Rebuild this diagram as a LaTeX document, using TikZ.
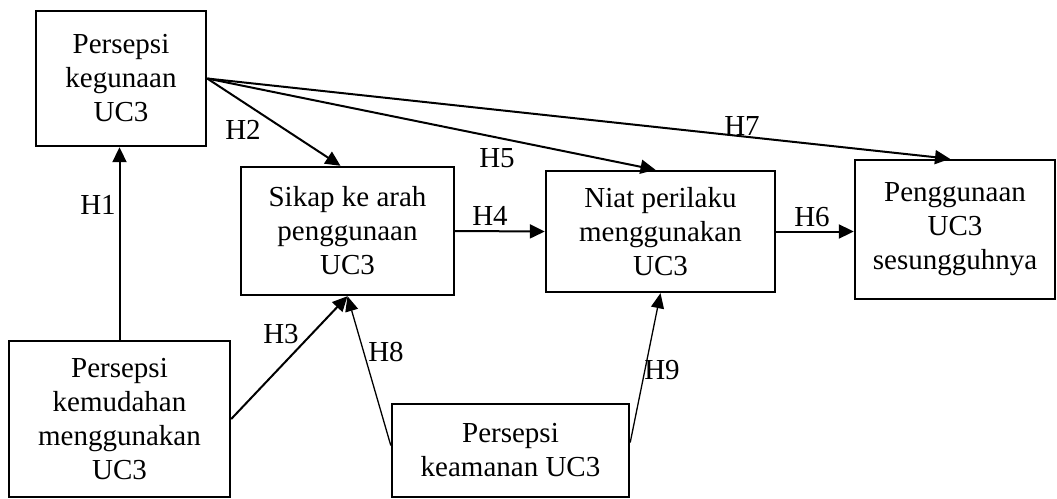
\documentclass[tikz,border=0pt]{standalone}
\usepackage{fontspec}
\setmainfont{Liberation Serif}
\usetikzlibrary{arrows.meta,calc}
\begin{document}
\begin{tikzpicture}[x=1pt,y=-1pt,
  box/.style={draw,line width=2.4pt,align=center,inner sep=0pt,
    font=\fontsize{29}{34}\selectfont},
  hlab/.style={inner sep=0pt,text height=19pt,text depth=0pt,
    font=\fontsize{29}{34}\selectfont},
  arr/.style={line width=2pt,-{Triangle[length=15pt,width=14pt]}},
  thinarr/.style={line width=1.3pt,-{Triangle[length=15pt,width=13pt]}}]
\useasboundingbox (0,0) rectangle (1057,498);
\node[box,minimum width=170pt,minimum height=135pt] (A) at (121,78.5) {Persepsi\\kegunaan\\UC3};
\node[box,minimum width=213pt,minimum height=128pt] (B) at (347.5,231) {Sikap ke arah\\penggunaan\\UC3};
\node[box,minimum width=229pt,minimum height=121pt] (C) at (660.5,231.5) {Niat perilaku\\menggunakan\\UC3};
\node[box,minimum width=200pt,minimum height=139pt] (D) at (955,229.5) {Penggunaan\\UC3\\sesungguhnya};
\node[box,minimum width=221pt,minimum height=156pt] (E) at (119.5,419) {Persepsi\\kemudahan\\menggunakan\\UC3};
\node[box,minimum width=237pt,minimum height=93pt] (F) at (510.5,450.5) {Persepsi\\keamanan UC3};
% connectors
\draw[arr] (E.north) -- (E.north |- A.south);
\draw[arr] (A.east) -- ($(B.north)+(-7,0)$);
\draw[arr] (A.east) -- ($(C.north)+(-5,0)$);
\draw[arr] (A.east) -- ($(D.north)+(-5,0)$);
\draw[arr] (B.east) -- (C.west);
\draw[arr] (C.east) -- (C.east -| D.west);
\draw[arr] (E.east) -- (B.south);
\draw[thinarr] ($(F.west)+(0,-5)$) -- (B.south);
\draw[thinarr] ($(F.east)+(0,-8)$) -- (C.south);
% labels
\node[hlab] (h1) at (98,205) {H1};
\node[hlab] (h2) at (243,130) {H2};
\node[hlab] (h3) at (281,334) {H3};
\node[hlab] (h4) at (490,216) {H4};
\node[hlab] (h5) at (497,158) {H5};
\node[hlab] (h6) at (812,217) {H6};
\node[hlab] (h7) at (742,126) {H7};
\node[hlab] (h8) at (386,352) {H8};
\node[hlab] (h9) at (662,370) {H9};
\end{tikzpicture}
\end{document}
